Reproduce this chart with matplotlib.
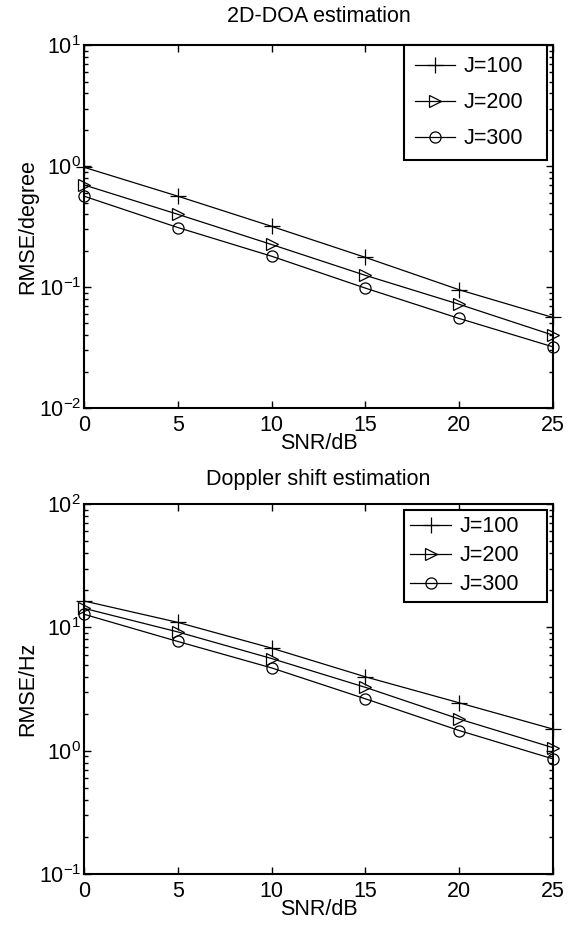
#!/usr/bin/env python3
"""RMSE vs SNR for 2D-DOA and Doppler shift estimation (J = 100/200/300)."""

import matplotlib
matplotlib.use("Agg")
import matplotlib.pyplot as plt
from matplotlib.ticker import LogLocator, NullFormatter

plt.rcParams['font.family'] = ['Liberation Sans', 'DejaVu Sans']
plt.rcParams['mathtext.fontset'] = 'custom'
plt.rcParams['mathtext.rm'] = 'Liberation Sans'
plt.rcParams['mathtext.it'] = 'Liberation Sans'

# SNR points (dB)
snr = [0, 5, 10, 15, 20, 25]
labels = ['J=100', 'J=200', 'J=300']

# 2D-DOA RMSE (degree)
doa_j100 = [0.98, 0.565, 0.318, 0.176, 0.095, 0.056]
doa_j200 = [0.70, 0.40, 0.225, 0.125, 0.072, 0.040]
doa_j300 = [0.565, 0.311, 0.180, 0.098, 0.055, 0.032]

# Doppler shift RMSE (Hz)
dop_j100 = [16.4, 11.0, 6.8, 3.98, 2.45, 1.50]
dop_j200 = [14.3, 9.2, 5.6, 3.27, 1.81, 1.06]
dop_j300 = [12.8, 7.7, 4.7, 2.64, 1.46, 0.86]

markers = ['+', '>', 'o']
marker_sizes = [11, 9, 8]
FS = 15.5


def draw_panel(ax, series, ylabel, title, ylim, legend_spacing, title_pad,
               leg_box, leg_pad):
    for vals, lab, m, ms in zip(series, labels, markers, marker_sizes):
        ax.plot(snr, vals, color='black', linewidth=0.9, marker=m,
                markersize=ms, markerfacecolor='none', markeredgewidth=0.9,
                label=lab, clip_on=False)
    ax.set_yscale('log')
    ax.set_xlim(0, 25)
    ax.set_ylim(*ylim)
    ax.set_xticks(snr)
    ax.yaxis.set_major_locator(LogLocator(base=10, numticks=10))
    ax.yaxis.set_minor_locator(LogLocator(base=10, subs=range(2, 10), numticks=20))
    ax.yaxis.set_minor_formatter(NullFormatter())
    ax.tick_params(which='both', direction='in', top=True, right=True,
                   labelsize=FS, width=1.0)
    ax.tick_params(which='major', length=5, pad=2)
    ax.tick_params(axis='x', which='major', pad=5)
    ax.tick_params(which='minor', length=3)
    for s in ax.spines.values():
        s.set_linewidth(1.5)
    ax.set_xlabel('SNR/dB', fontsize=FS, labelpad=-2)
    ax.set_ylabel(ylabel, fontsize=FS, labelpad=0)
    ax.set_title(title, fontsize=FS, pad=title_pad)
    leg = ax.legend(loc='upper left', bbox_to_anchor=leg_box, mode='expand',
                    fontsize=FS, frameon=True, fancybox=False,
                    edgecolor='black', framealpha=1, borderaxespad=0,
                    labelspacing=legend_spacing, handlelength=1.9,
                    handletextpad=0.4, borderpad=leg_pad)
    leg.get_frame().set_linewidth(1.5)


fig = plt.figure(figsize=(5.79, 9.25), dpi=100)
ax1 = fig.add_axes([0.145, 0.559, 0.81, 0.392])
ax2 = fig.add_axes([0.145, 0.055, 0.81, 0.400])

draw_panel(ax1, [doa_j100, doa_j200, doa_j300], 'RMSE/degree',
           '2D-DOA estimation', (1e-2, 1e1), 0.7, 17,
           (0.682, 0.0, 0.305, 1.0), 0.5)
draw_panel(ax2, [dop_j100, dop_j200, dop_j300], 'RMSE/Hz',
           'Doppler shift estimation', (1e-1, 1e2), 0.38, 14,
           (0.682, 0.0, 0.305, 0.985), 0.3)

fig.savefig('out.png', dpi=100)
